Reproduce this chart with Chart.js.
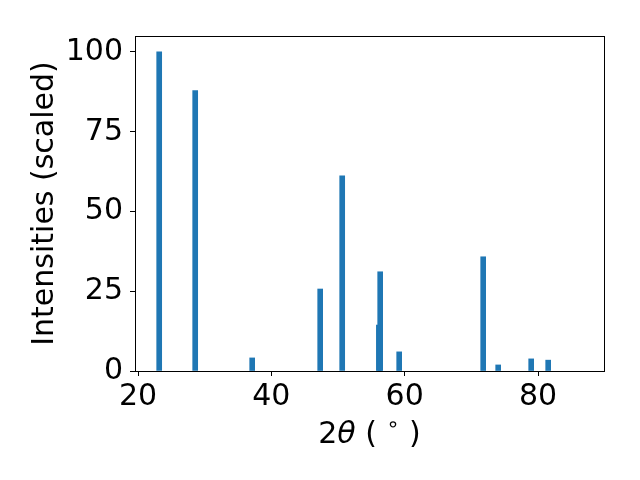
<!DOCTYPE html>
<html>
<head>
<meta charset="utf-8">
<script src="https://cdn.jsdelivr.net/npm/chart.js@4.4.1/dist/chart.umd.min.js"></script>
<style>
  html, body { margin: 0; padding: 0; background: #fff; }
</style>
</head>
<body>
<canvas id="xrdChart" width="640" height="480"></canvas>
<script>
// Peak positions (2theta, degrees) and scaled intensities
const twoTheta = [23.18, 28.58, 37.13, 47.33, 50.63, 56.13, 56.33, 59.18, 71.78, 74.03, 78.98, 81.53];
const intensity = [100, 87.9, 4.1, 25.7, 61.2, 14.4, 31.1, 6.0, 35.8, 1.9, 3.8, 3.4];

// Tick labels
const xTicks = [20, 40, 60, 80];
const yTicks = [0, 25, 50, 75, 100];

const FONT = { family: 'DejaVu Sans', size: 30 };

// Draw the full box around the plot area (matplotlib style)
const boxPlugin = {
    id: 'box',
    afterDraw(chart) {
        const a = chart.chartArea;
        const ctx = chart.ctx;
        ctx.save();
        ctx.strokeStyle = '#000';
        ctx.lineWidth = 1;
        ctx.strokeRect(Math.round(a.left) + 0.5, Math.round(a.top) + 0.5,
            Math.round(a.right - a.left), Math.round(a.bottom - a.top));
        ctx.restore();
    }
};

// x title with an italic theta and a superscript ring, like the mathtext label
const xTitlePlugin = {
    id: 'xTitle',
    afterDraw(chart) {
        const ctx = chart.ctx;
        const a = chart.chartArea;
        const parts = [
            { t: '2', f: '30px "DejaVu Sans"', dy: 0 },
            { t: 'θ', f: 'italic 30px "DejaVu Sans"', dy: 0 },
            { t: ' ( ', f: '30px "DejaVu Sans"', dy: 0 },
            { t: '∘', f: '21px "DejaVu Sans"', dy: -12 },
            { t: ' )', f: '30px "DejaVu Sans"', dy: 0 }
        ];
        ctx.save();
        ctx.fillStyle = '#000';
        ctx.textBaseline = 'alphabetic';
        ctx.textAlign = 'left';
        let total = 0;
        parts.forEach(p => { ctx.font = p.f; p.w = ctx.measureText(p.t).width; total += p.w; });
        let x = (a.left + a.right) / 2 - total / 2;
        const y = a.bottom + 72;
        parts.forEach(p => { ctx.font = p.f; ctx.fillText(p.t, x, y + p.dy); x += p.w; });
        ctx.restore();
    }
};

const ctx = document.getElementById('xrdChart').getContext('2d');

new Chart(ctx, {
    type: 'bar',
    data: {
        datasets: [{
            data: twoTheta.map((x, i) => ({ x: x, y: intensity[i] })),
            backgroundColor: '#1f77b4',
            borderWidth: 0,
            barThickness: 5
        }]
    },
    options: {
        responsive: false,
        animation: false,
        devicePixelRatio: 1,
        layout: { padding: { top: 36, right: 36, bottom: 0, left: 0 } },
        plugins: {
            legend: { display: false },
            tooltip: { enabled: false }
        },
        scales: {
            x: {
                type: 'linear',
                min: 19.55,
                max: 89.9,
                offset: false,
                afterBuildTicks: scale => { scale.ticks = xTicks.map(v => ({ value: v })); },
                afterFit: scale => { scale.height = 109; },
                grid: { drawOnChartArea: false, drawTicks: true, tickLength: 5, color: '#000', offset: false },
                border: { color: '#000', width: 1 },
                ticks: { color: '#000', font: FONT, padding: 3, maxRotation: 0 },
                title: { display: false }
            },
            y: {
                min: 0,
                max: 105,
                afterBuildTicks: scale => { scale.ticks = yTicks.map(v => ({ value: v })); },
                afterFit: scale => { scale.width = 135; },
                grid: { drawOnChartArea: false, drawTicks: true, tickLength: 5, color: '#000' },
                border: { color: '#000', width: 1 },
                ticks: { color: '#000', font: FONT, padding: 7 },
                title: {
                    display: true,
                    text: 'Intensities (scaled)',
                    color: '#000',
                    font: FONT,
                    padding: { top: 27, bottom: 0 }
                }
            }
        }
    },
    plugins: [boxPlugin, xTitlePlugin]
});
</script>
</body>
</html>
